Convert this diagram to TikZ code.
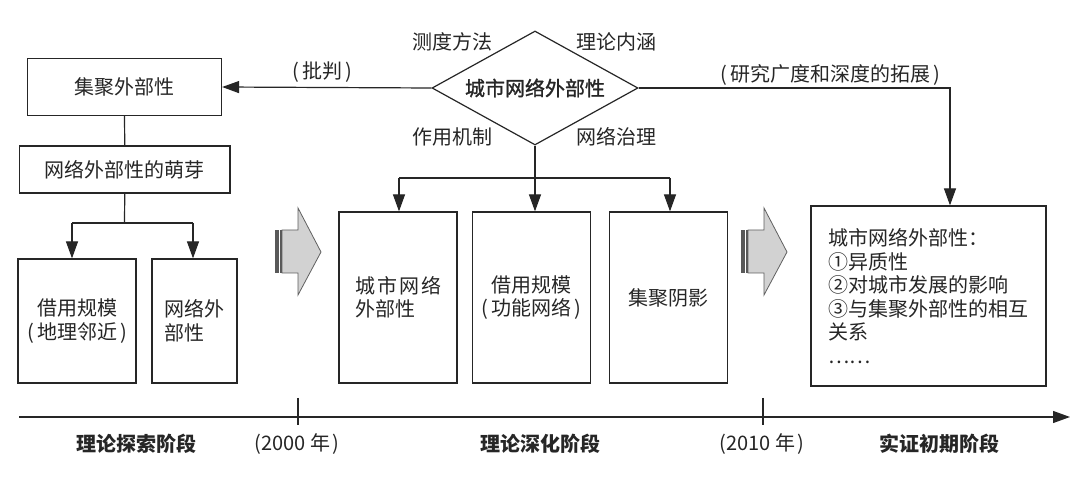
\documentclass[tikz,border=0pt]{standalone}
\usepackage{fontspec}
\setmainfont{Noto Sans CJK SC}
\newfontfamily\medfont{Noto Sans CJK SC}[FakeBold=1.2]
\usetikzlibrary{arrows.meta,shapes.geometric}
\begin{document}
\begin{tikzpicture}[x=1pt,y=-1pt,
  lc/.style={draw=black!85, line width=1.2pt},
  arr/.style={lc, -{Triangle[length=17pt,width=12pt]}},
  box/.style={lc, rectangle, inner sep=0pt, align=center, fill=white, text=black!85},
  lab/.style={inner sep=0pt, text=black!85},
  stage/.style={lab, font=\fontsize{20}{24}\selectfont\bfseries},
  garrow/.style={fill=gray!35, draw=gray!75!black, line width=0.8pt},
  gstrip/.style={fill=gray!70!black},
  font=\fontsize{20}{23.5}\selectfont]
\fill[white] (0,0) rectangle (1080,478);
\useasboundingbox (0,0) rectangle (1080,478);

% diamond
\node[lc, diamond, minimum width=206pt, minimum height=114pt, inner sep=0pt, aspect=1.8,
      text=black!85, font=\medfont\fontsize{20}{24}\selectfont] (D) at (535,88) {城市网络外部性};

% left boxes
\node[box, minimum width=194pt, minimum height=57pt] (A) at (124.5,87) {集聚外部性};
\node[box, minimum width=210.5pt, minimum height=47pt] (B) at (124.75,169.5) {网络外部性的萌芽};
\node[box, minimum width=118pt, minimum height=124pt] (L1) at (77,321) {借用规模\\(\hspace{3pt}地理邻近\hspace{3pt})};
\node[box, minimum width=85pt, minimum height=124pt, align=left] (L2) at (194.5,321) {网络外\\部性};

% middle boxes
\node[box, minimum width=118pt, minimum height=171pt, align=left] (M1) at (398,297.5) {城\hspace{2pt}市\hspace{2pt}网\hspace{2pt}络\\外部性};
\node[box, minimum width=118pt, minimum height=171pt] (M2) at (531.5,297.5) {借用规模\\(\hspace{3pt}功能网络\hspace{3pt})};
\node[box, minimum width=118pt, minimum height=171pt] (M3) at (668.5,297.5) {集聚阴影};

% right box
\node[box, minimum width=235pt, minimum height=180pt, align=left] (R) at (928.5,296)
  {城市网络外部性：\\①异质性\\②对城市发展的影响\\③与集聚外部性的相互\\关系\\……};

% labels round the diamond
\node[lab] (q1) at (452.5,42) {测度方法};
\node[lab] (q2) at (616,42) {理论内涵};
\node[lab] (q3) at (452.5,137) {作用机制};
\node[lab] (q4) at (616,137) {网络治理};
\node[lab] (pj) at (322,72) {(\hspace{3pt}批判\hspace{3pt})};
\node[lab] (yj) at (830,75) {(\hspace{3pt}研究广度和深度的拓展\hspace{3pt})};

% connectors left
\draw[arr] (D.west) -- (A.east);
\draw[lc] (A.south) -- (B.north);
\coordinate (lj) at (124.5,223);
\coordinate (la) at (72,223);
\coordinate (lb) at (193,223);
\draw[lc] (B.south) -- (lj);
\draw[lc] (la) -- (lb);
\draw[arr] (la) -- (la |- L1.north);
\draw[arr] (lb) -- (lb |- L2.north);

% connectors middle
\coordinate (ma) at (399,178);
\coordinate (mb) at (670,178);
\draw[lc] (ma) -- (mb);
\draw[arr] (D.south) -- (D.south |- M2.north);
\draw[arr] (ma) -- (ma |- M1.north);
\draw[arr] (mb) -- (mb |- M3.north);

% connector right
\coordinate (rc) at (950,88);
\draw[arr] (D.east) -- (rc) -- (rc |- R.north);

% gray block arrows
\foreach \dx in {0,466} {
  \begin{scope}[xshift=\dx]
    \fill[gstrip] (275,230) rectangle (278.5,273);
    \fill[gstrip] (280,230) rectangle (282,273);
    \draw[garrow] (282,230) -- (298,230) -- (298,208) -- (321,252) -- (298,295) -- (298,273) -- (282,273) -- cycle;
  \end{scope}
}

% timeline
\coordinate (t0) at (19,417);
\coordinate (t1) at (1070,417);
\draw[arr] (t0) -- (t1);
\coordinate (k1) at (298,398);
\coordinate (k2) at (763,398);
\draw[lc] (k1) -- ++(0,27);
\draw[lc] (k2) -- ++(0,27);

\node[stage] (s1) at (136,444) {理论探索阶段};
\node[stage] (s2) at (540,444) {理论深化阶段};
\node[stage] (s3) at (939.5,444) {实证初期阶段};
\node[lab] (y1) at (297,444) {(2000 年\hspace{2pt})};
\node[lab] (y2) at (762,444) {(2010 年\hspace{2pt})};
\end{tikzpicture}
\end{document}
